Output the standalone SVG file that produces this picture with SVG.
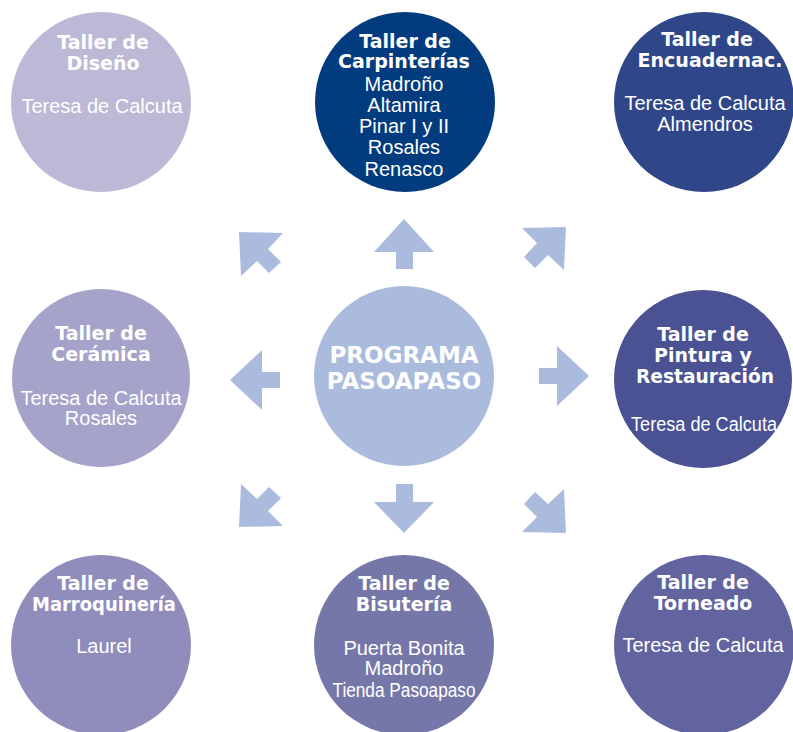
<svg xmlns="http://www.w3.org/2000/svg" width="793" height="732" viewBox="0 0 793 732">
<style>
.t{font-family:"DejaVu Sans","Liberation Sans",sans-serif;font-weight:bold;font-size:19px;fill:#fff;text-anchor:middle}
.p{font-family:"Liberation Sans","Open Sans",sans-serif;font-size:20px;fill:#fff;text-anchor:middle}
.c{font-family:"DejaVu Sans","Liberation Sans",sans-serif;font-weight:bold;font-size:23px;fill:#fff;text-anchor:middle}
.a{fill:#abbbde}
</style>
<rect width="793" height="732" fill="#fff"/>
<g id="connectors">
<polygon class="a" points="404,219 434,252 413,252 413,269 396,269 396,252 374,252"/>
<polygon class="a" points="404,533 434,502 413,502 413,484 396,484 396,502 374,502"/>
<polygon class="a" points="230,380 262,350 262,372 280,372 280,388 262,388 262,410"/>
<polygon class="a" points="589,376 557,346 557,368 539,368 539,384 557,384 557,406"/>
<polygon class="a" points="239,232 283,233 268,249 281,262 269,273 257,261 241,276"/>
<polygon class="a" points="566,227 522,228 537,243 524,257 535,268 548,255 564,270"/>
<polygon class="a" points="239,527 283,526 268,511 281,498 269,487 257,499 241,484"/>
<polygon class="a" points="566,533 522,532 537,517 524,504 535,492 548,504 564,489"/>
</g>
<g id="center">
<circle cx="404" cy="376" r="90" fill="#abbbde"/>
<text class="c" x="404" y="363">PROGRAMA</text>
<text class="c" x="404" y="389">PASOAPASO</text>
</g>
<g id="diseno">
<circle cx="101" cy="102" r="90" fill="#bbb9d6"/>
<text class="t" x="103" y="49">Taller de</text>
<text class="t" x="103" y="70">Diseño</text>
<text class="p" x="102" y="113">Teresa de Calcuta</text>
</g>
<g id="carpinterias">
<circle cx="405" cy="102" r="90" fill="#023b7e"/>
<text class="t" x="405" y="48">Taller de</text>
<text class="t" x="404" y="68">Carpinterías</text>
<text class="p" x="404" y="91">Madroño</text>
<text class="p" x="404" y="112">Altamira</text>
<text class="p" x="404" y="133">Pinar I y II</text>
<text class="p" x="404" y="154">Rosales</text>
<text class="p" x="404" y="176">Renasco</text>
</g>
<g id="encuadernacion">
<circle cx="704" cy="102" r="90" fill="#2f4689"/>
<text class="t" x="707" y="46">Taller de</text>
<text class="t" x="710" y="67">Encuadernac.</text>
<text class="p" x="705" y="110">Teresa de Calcuta</text>
<text class="p" x="705" y="131">Almendros</text>
</g>
<g id="ceramica">
<circle cx="101" cy="378" r="89" fill="#a5a3c9"/>
<text class="t" x="101" y="340">Taller de</text>
<text class="t" x="101" y="361">Cerámica</text>
<text class="p" x="101" y="405">Teresa de Calcuta</text>
<text class="p" x="101" y="425">Rosales</text>
</g>
<g id="pintura">
<circle cx="703" cy="379" r="89" fill="#4a5294"/>
<text class="t" x="703" y="341">Taller de</text>
<text class="t" x="703" y="362">Pintura y</text>
<text class="t" x="705" y="383" textLength="138" lengthAdjust="spacingAndGlyphs">Restauración</text>
<text class="p" x="704" y="431" textLength="146" lengthAdjust="spacingAndGlyphs">Teresa de Calcuta</text>
</g>
<g id="marroquineria">
<circle cx="101" cy="645" r="90" fill="#8f8dbc"/>
<text class="t" x="103" y="590">Taller de</text>
<text class="t" x="104" y="611" textLength="144" lengthAdjust="spacingAndGlyphs">Marroquinería</text>
<text class="p" x="104" y="653">Laurel</text>
</g>
<g id="bisuteria">
<circle cx="404" cy="645" r="90" fill="#7577a9"/>
<text class="t" x="404" y="590">Taller de</text>
<text class="t" x="404" y="611">Bisutería</text>
<text class="p" x="404" y="655">Puerta Bonita</text>
<text class="p" x="404" y="675">Madroño</text>
<text class="p" x="404" y="697" textLength="143" lengthAdjust="spacingAndGlyphs">Tienda Pasoapaso</text>
</g>
<g id="torneado">
<circle cx="704" cy="645" r="90" fill="#62649f"/>
<text class="t" x="703" y="589">Taller de</text>
<text class="t" x="703" y="610">Torneado</text>
<text class="p" x="703" y="652">Teresa de Calcuta</text>
</g>
</svg>
